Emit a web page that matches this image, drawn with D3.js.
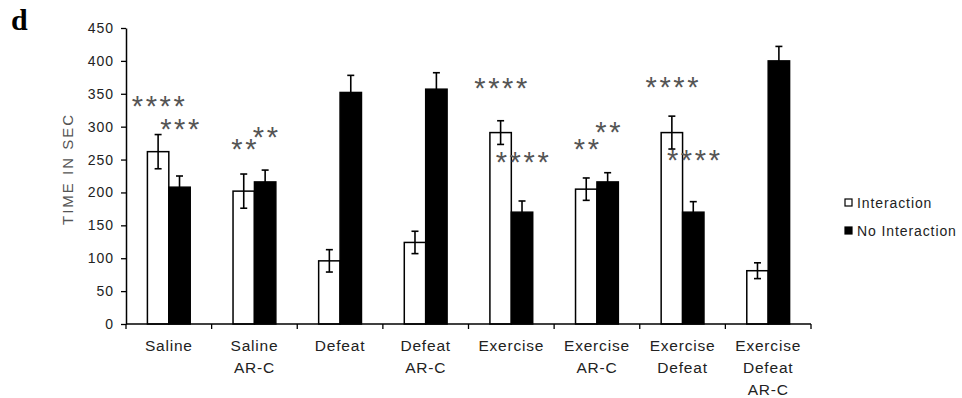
<!DOCTYPE html>
<html>
<head>
<meta charset="utf-8">
<script src="https://cdn.jsdelivr.net/npm/d3@7"></script>
<style>
  body { margin: 0; background: #fff; }
  svg text { font-family: Arial, "Liberation Sans", sans-serif; }
</style>
</head>
<body>
<svg id="chart" width="962" height="398"></svg>
<script>
// ---- data ----
const categories = ["Saline", "Saline AR-C", "Defeat", "Defeat AR-C", "Exercise",
  "Exercise AR-C", "Exercise Defeat", "Exercise Defeat AR-C"];
const seriesNames = ["Interaction", "No Interaction"];
const interaction = [262, 202, 96, 124, 291, 205, 291, 81];
const interactionErr = [26, 26, 17, 17, 18, 17, 25, 12];
const noInteraction = [208, 216, 352, 357, 170, 216, 170, 400];
const noInteractionErr = [17, 18, 26, 25, 17, 14, 16, 22];
const yTicks = [0, 50, 100, 150, 200, 250, 300, 350, 400, 450];

// significance marks: label, category, series index, height (sec)
const sigLabels = ["****", "***", "**", "**", "****", "****", "**", "**", "****", "****"];
const sigCategory = ["Saline", "Saline", "Saline AR-C", "Saline AR-C", "Exercise", "Exercise",
  "Exercise AR-C", "Exercise AR-C", "Exercise Defeat", "Exercise Defeat"];
const sigSeries = [0, 1, 0, 1, 0, 1, 0, 1, 0, 1];
const sigValue = [340, 306, 275, 293, 368, 255, 275, 301, 369, 258];

const fills = ["#fff", "#000"];

// ---- layout ----
const svg = d3.select("#chart");
const plotLeft = 126, plotRight = 811, plotTop = 28, plotBottom = 324;

const y = d3.scaleLinear().domain([0, 450]).range([plotBottom, plotTop]);
const xCat = d3.scaleBand().domain(categories).range([plotLeft, plotRight]).padding(0);
const x0 = d3.scaleBand().domain(categories).range([plotLeft, plotRight])
  .paddingInner(0.5).paddingOuter(0.25);
const x1 = d3.scaleBand().domain([0, 1]).range([0, x0.bandwidth()]);

const rows = categories.map((c, i) => ({
  cat: c,
  vals: [
    { s: 0, v: interaction[i], e: interactionErr[i] },
    { s: 1, v: noInteraction[i], e: noInteractionErr[i] }
  ]
}));

// panel letter
svg.append("text").attr("x", 11).attr("y", 30)
  .style("font-family", "'Liberation Serif', 'DejaVu Serif', serif")
  .style("font-weight", "bold").style("font-size", "30px").text("d");

// y axis
const yAxis = svg.append("g").attr("transform", `translate(${plotLeft},0)`)
  .call(d3.axisLeft(y).tickValues(yTicks).tickSize(5).tickSizeOuter(0).tickPadding(7));
yAxis.select(".domain").attr("stroke", "#000").attr("stroke-width", 1.5);
yAxis.selectAll(".tick line").attr("stroke", "#000").attr("stroke-width", 1.3);
yAxis.selectAll(".tick text").style("font-size", "14px").style("letter-spacing", "1px")
  .attr("fill", "#222");

svg.append("text")
  .attr("transform", `translate(73,${(plotTop + plotBottom) / 2 - 7}) rotate(-90)`)
  .attr("text-anchor", "middle").style("font-size", "15px").style("letter-spacing", "2px")
  .attr("fill", "#555").text("TIME IN SEC");

// bars
const groups = svg.selectAll(".grp").data(rows).enter().append("g")
  .attr("transform", d => `translate(${x0(d.cat)},0)`);

groups.selectAll("rect").data(d => d.vals).enter().append("rect")
  .attr("x", d => x1(d.s))
  .attr("y", d => y(d.v))
  .attr("width", x1.bandwidth())
  .attr("height", d => y(0) - y(d.v))
  .attr("fill", d => fills[d.s])
  .attr("stroke", "#000").attr("stroke-width", 1.5);

// error bars
const eb = groups.selectAll(".err").data(d => d.vals).enter().append("g")
  .attr("transform", d => `translate(${x1(d.s) + x1.bandwidth() / 2},0)`);
eb.append("line").attr("y1", d => y(d.v + d.e)).attr("y2", d => y(d.v - d.e))
  .attr("stroke", "#000").attr("stroke-width", 1.6);
eb.append("line").attr("x1", -3.5).attr("x2", 3.5)
  .attr("y1", d => y(d.v + d.e)).attr("y2", d => y(d.v + d.e))
  .attr("stroke", "#000").attr("stroke-width", 1.6);
eb.filter(d => d.s === 0).append("line").attr("x1", -3.5).attr("x2", 3.5)
  .attr("y1", d => y(d.v - d.e)).attr("y2", d => y(d.v - d.e))
  .attr("stroke", "#000").attr("stroke-width", 1.6);

// x axis with ticks between categories
const xAxis = svg.append("g");
xAxis.append("line").attr("x1", plotLeft).attr("x2", plotRight)
  .attr("y1", plotBottom).attr("y2", plotBottom).attr("stroke", "#000").attr("stroke-width", 1.5);
const bounds = categories.map(c => xCat(c)).concat([plotRight]);
xAxis.selectAll(".bt").data(bounds).enter().append("line")
  .attr("x1", d => d).attr("x2", d => d)
  .attr("y1", plotBottom).attr("y2", plotBottom + 5)
  .attr("stroke", "#000").attr("stroke-width", 1.3);
const lab = xAxis.selectAll(".lab").data(categories).enter().append("text")
  .attr("text-anchor", "middle")
  .attr("transform", d => `translate(${xCat(d) + xCat.bandwidth() / 2},351)`)
  .style("font-size", "15.5px").style("letter-spacing", "0.8px").attr("fill", "#222");
lab.selectAll("tspan").data(d => d.split(" ")).enter().append("tspan")
  .attr("x", 0).attr("y", (d, i) => i * 22).text(d => d);

// significance asterisks
svg.selectAll(".sig").data(sigLabels).enter().append("text")
  .attr("text-anchor", "middle")
  .attr("x", (d, i) => x0(sigCategory[i]) + x1(sigSeries[i]) + x1.bandwidth() / 2 + 1.5)
  .attr("y", (d, i) => y(sigValue[i]) + 16)
  .style("font-size", "29px").style("letter-spacing", "2.6px")
  .attr("fill", "#555").text(d => d);

// legend
const leg = svg.append("g").attr("transform", "translate(845,199)");
const li = leg.selectAll("g").data(seriesNames).enter().append("g")
  .attr("transform", (d, i) => `translate(0,${i * 28})`);
li.append("rect").attr("width", 7).attr("height", 7)
  .attr("fill", (d, i) => fills[i]).attr("stroke", "#000").attr("stroke-width", 1.2);
li.append("text").attr("x", 12).attr("y", 8.5)
  .style("font-size", "14px").style("letter-spacing", "0.9px").attr("fill", "#222")
  .text(d => d);
</script>
</body>
</html>
